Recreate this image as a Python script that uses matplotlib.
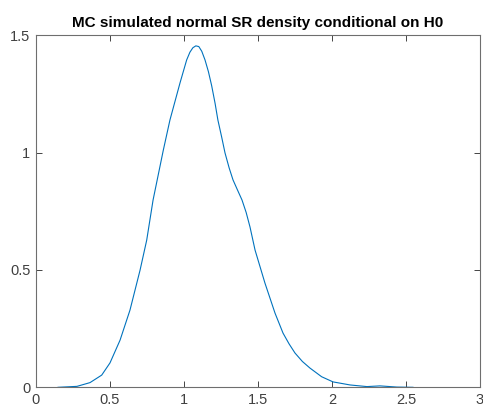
import matplotlib
matplotlib.use('Agg')
import matplotlib.pyplot as plt

plt.rcParams['font.family'] = ['Liberation Sans', 'DejaVu Sans']

# kernel density estimate
sr = [0.149, 0.277, 0.365, 0.444, 0.500, 0.568, 0.635, 0.703, 0.748, 0.791,
      0.860, 0.905, 0.973, 1.018, 1.040, 1.060, 1.080, 1.100, 1.120, 1.142,
      1.165, 1.187, 1.210, 1.229, 1.255, 1.277, 1.305, 1.331, 1.362, 1.392,
      1.420, 1.446, 1.480, 1.547, 1.615, 1.669, 1.710, 1.750, 1.800, 1.851,
      1.930, 2.007, 2.122, 2.236, 2.324, 2.439, 2.547]
density = [0.000, 0.004, 0.020, 0.052, 0.104, 0.201, 0.329, 0.499, 0.627, 0.798,
           1.010, 1.139, 1.297, 1.395, 1.428, 1.447, 1.455, 1.452, 1.432, 1.395,
           1.345, 1.285, 1.210, 1.139, 1.065, 0.999, 0.935, 0.884, 0.840, 0.798,
           0.745, 0.683, 0.585, 0.444, 0.316, 0.231, 0.185, 0.146, 0.110, 0.082,
           0.045, 0.023, 0.010, 0.003, 0.006, 0.001, 0.000]

xticks = [0, 0.5, 1, 1.5, 2, 2.5, 3]
xticklabels = ['0', '0.5', '1', '1.5', '2', '2.5', '3']
yticks = [0, 0.5, 1, 1.5]
yticklabels = ['0', '0.5', '1', '1.5']

fig = plt.figure(figsize=(4.83, 4.07), dpi=100)
ax = fig.add_axes([36 / 483, 19.7 / 407, 444 / 483, 352 / 407])

ax.plot(sr, density, color='#0072BD', linewidth=0.8)

ax.set_xlim(0, 3)
ax.set_ylim(0, 1.5)
ax.set_xticks(xticks)
ax.set_xticklabels(xticklabels)
ax.set_yticks(yticks)
ax.set_yticklabels(yticklabels)
ax.tick_params(direction='in', length=4, width=0.6, color='#262626',
               labelcolor='#404040', labelsize=10.5, top=True, right=True, pad=4)
for s in ax.spines.values():
    s.set_color('#6e6e6e')
    s.set_linewidth(0.8)

ax.set_title('MC simulated normal SR density conditional on H0',
             fontsize=11, fontweight='bold', pad=6)

fig.savefig('out.png', dpi=100)
